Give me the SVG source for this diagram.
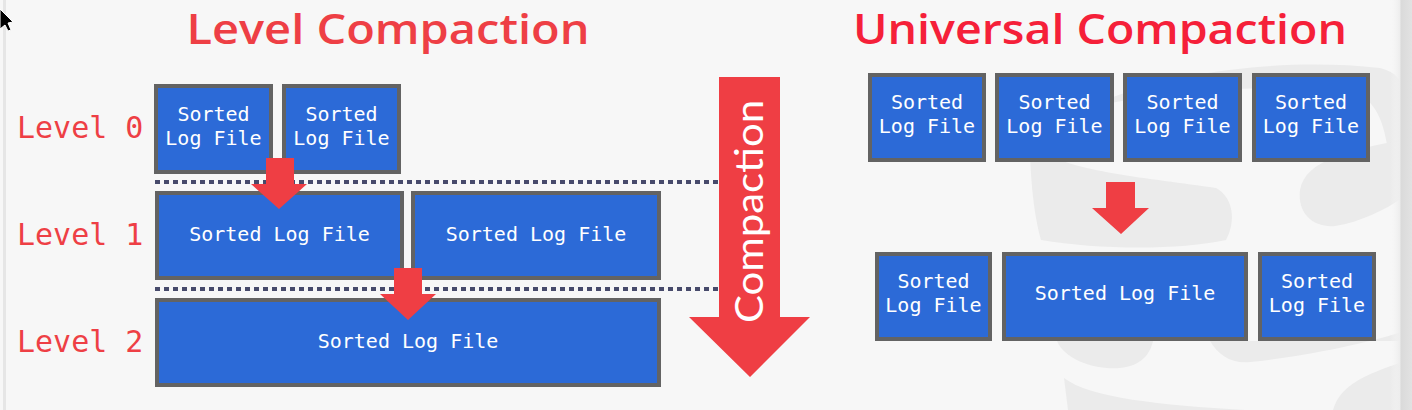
<svg xmlns="http://www.w3.org/2000/svg" width="1412" height="410" viewBox="0 0 1412 410">
<defs>
<style>
.box{fill:#2C6AD7;stroke:#636363;stroke-width:4}
.bt{font-family:"DejaVu Sans Mono","Liberation Mono",monospace;font-size:20px;fill:#ffffff;text-anchor:middle}
.lvl{font-family:"DejaVu Sans Mono","Liberation Mono",monospace;font-size:30px;fill:#EE3F45}
.title{font-family:"Open Sans","Lato",sans-serif;font-size:41px;font-weight:600}
.arr{fill:#EF3E44}
.dots{stroke:#474A6B;stroke-width:4;stroke-dasharray:5 4;fill:none}
.wm{fill:#EBEBEB}
</style>
<linearGradient id="edge" x1="0" y1="0" x2="1" y2="0">
<stop offset="0" stop-color="#F7F7F7" stop-opacity="0"/>
<stop offset="0.45" stop-color="#EDEDED"/>
<stop offset="0.5" stop-color="#DADADA"/>
<stop offset="1" stop-color="#E2E2E2"/>
</linearGradient>
</defs>
<rect x="0" y="0" width="1412" height="410" fill="#F7F7F7"/>
<rect x="3" y="0" width="3" height="410" fill="#E6E6E6"/>
<g id="watermark">
<path class="wm" d="M1105,100 C1180,70 1290,58 1380,68 C1396,72 1402,80 1402,90 L1402,200 C1396,190 1392,170 1388,150 C1384,125 1378,105 1360,95 C1300,84 1200,86 1105,104 Z"/>
<path class="wm" d="M1030,150 C1031,190 1035,218 1041,240 C1100,250 1180,250 1226,240 C1236,222 1234,198 1216,188 C1150,178 1070,172 1040,150 Z"/>
<path class="wm" d="M1402,140 C1350,150 1305,160 1300,190 C1297,215 1315,228 1335,226 C1360,222 1385,210 1402,198 Z"/>
<path class="wm" d="M1057,341 C1065,360 1095,370 1120,368 C1140,366 1150,355 1153,341 Z"/>
<path class="wm" d="M1210,341 C1218,355 1232,364 1250,362 C1300,357 1360,345 1402,332 L1402,341 Z"/>
<path class="wm" d="M1064,378 C1090,398 1160,405 1245,410 L1068,410 Z"/>
<path class="wm" d="M1333,410 C1340,385 1365,375 1402,362 L1402,410 Z"/>
</g>
<rect x="1390" y="0" width="22" height="410" fill="url(#edge)"/>
<g id="cursor">
<path d="M0,9 L13,22 L8,23 L11,30 L8,31 L5,25 L0,29 Z" fill="#000000" stroke="#FFFFFF" stroke-width="1"/>
</g>
<g id="titles">
<text class="title" x="388" y="44" text-anchor="middle" fill="#EE3F45" textLength="403" lengthAdjust="spacingAndGlyphs">Level Compaction</text>
<text class="title" x="1100" y="44" text-anchor="middle" fill="#F52039" textLength="494" lengthAdjust="spacingAndGlyphs">Universal Compaction</text>
</g>
<g id="level-labels">
<text class="lvl" x="17" y="138">Level 0</text>
<text class="lvl" x="17" y="245">Level 1</text>
<text class="lvl" x="17" y="352">Level 2</text>
</g>
<g id="connectors">
<line class="dots" x1="155" y1="182" x2="719" y2="182"/>
<line class="dots" x1="155" y1="289" x2="719" y2="289"/>
</g>
<g id="l0a"><rect class="box" x="156" y="86" width="115" height="86"/><text class="bt" x="213.5" y="120.5">Sorted</text><text class="bt" x="213.5" y="144.5">Log File</text></g>
<g id="l0b"><rect class="box" x="284" y="86" width="115" height="86"/><text class="bt" x="341.5" y="120.5">Sorted</text><text class="bt" x="341.5" y="144.5">Log File</text></g>
<g id="l1a"><rect class="box" x="157" y="193" width="245" height="85"/><text class="bt" x="279.5" y="241">Sorted Log File</text></g>
<g id="l1b"><rect class="box" x="413" y="193" width="246" height="85"/><text class="bt" x="536" y="241">Sorted Log File</text></g>
<g id="l2"><rect class="box" x="157" y="300" width="502" height="85"/><text class="bt" x="408" y="348">Sorted Log File</text></g>
<g id="arrows-left">
<polygon class="arr" points="266,158 294,158 294,184 307,184 279,209 251,184 266,184"/>
<polygon class="arr" points="394,268 422,268 422,294 436,294 408,320 380,294 394,294"/>
</g>
<g id="big-arrow">
<polygon class="arr" points="719,77 780,77 780,317 810,317 750,377 689,317 719,317"/>
<text transform="translate(763,211.5) rotate(-90)" x="0" y="0" text-anchor="middle" font-family="Lato,'Open Sans',sans-serif" font-size="39" fill="#FFFFFF" textLength="223" lengthAdjust="spacingAndGlyphs">Compaction</text>
</g>
<g id="u-top1"><rect class="box" x="870" y="75" width="114" height="85"/><text class="bt" x="927" y="109">Sorted</text><text class="bt" x="927" y="133">Log File</text></g>
<g id="u-top2"><rect class="box" x="997" y="75" width="115" height="85"/><text class="bt" x="1054.5" y="109">Sorted</text><text class="bt" x="1054.5" y="133">Log File</text></g>
<g id="u-top3"><rect class="box" x="1125" y="75" width="115" height="85"/><text class="bt" x="1182.5" y="109">Sorted</text><text class="bt" x="1182.5" y="133">Log File</text></g>
<g id="u-top4"><rect class="box" x="1254" y="75" width="114" height="85"/><text class="bt" x="1311" y="109">Sorted</text><text class="bt" x="1311" y="133">Log File</text></g>
<g id="u-arrow">
<polygon class="arr" points="1106,182 1135,182 1135,208 1149,208 1121,234 1092,208 1106,208"/>
</g>
<g id="u-bot1"><rect class="box" x="877" y="254" width="113" height="85"/><text class="bt" x="933.5" y="288">Sorted</text><text class="bt" x="933.5" y="312">Log File</text></g>
<g id="u-bot2"><rect class="box" x="1004" y="254" width="242" height="85"/><text class="bt" x="1125" y="300">Sorted Log File</text></g>
<g id="u-bot3"><rect class="box" x="1260" y="254" width="114" height="85"/><text class="bt" x="1317" y="288">Sorted</text><text class="bt" x="1317" y="312">Log File</text></g>
</svg>
